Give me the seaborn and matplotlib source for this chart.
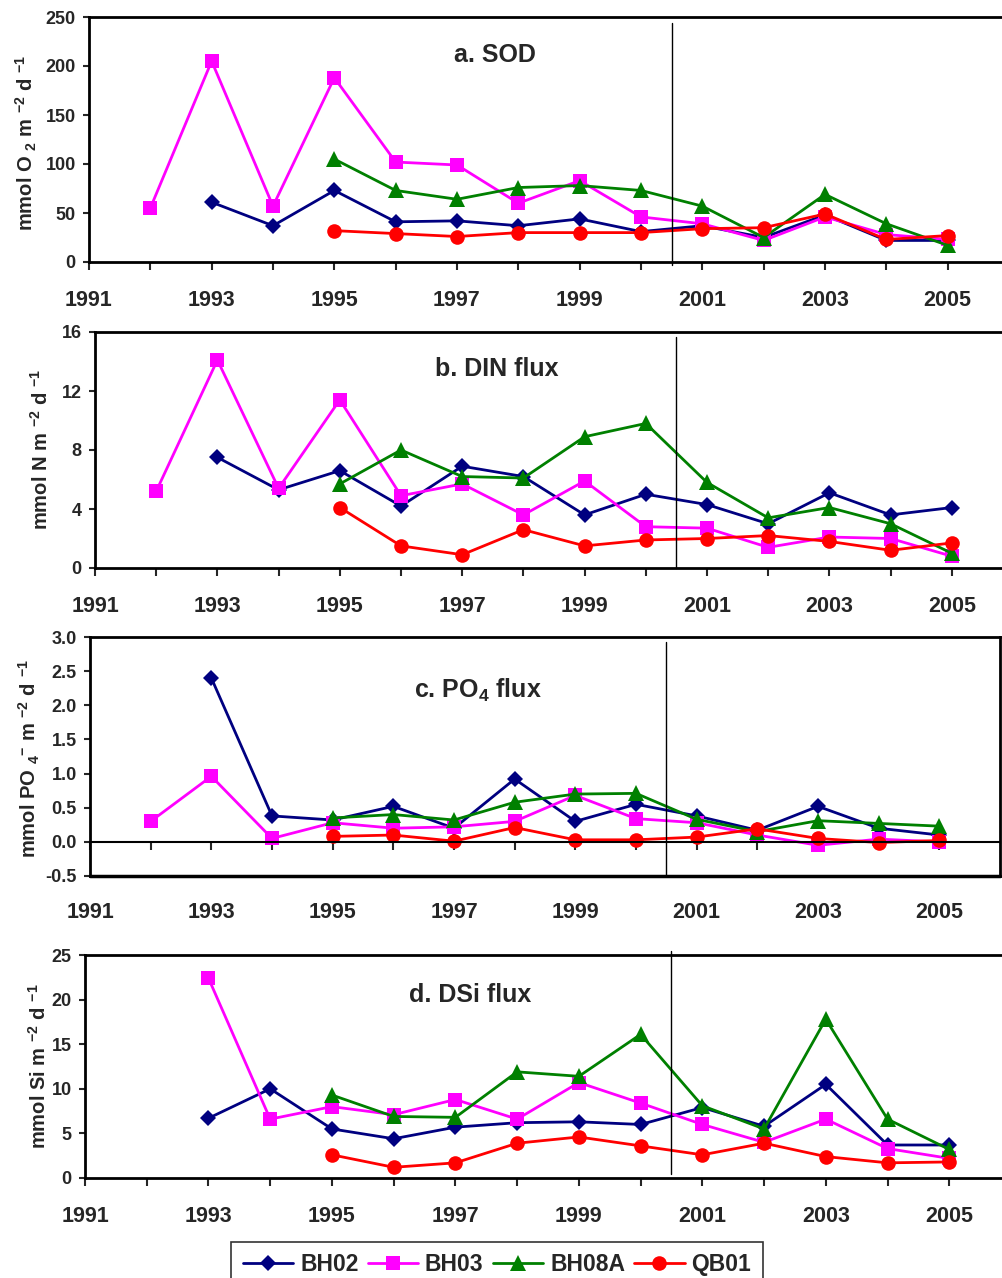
import numpy as np
import matplotlib
matplotlib.use('Agg')
import matplotlib.pyplot as plt
import seaborn as sns

nan = np.nan
years = list(range(1992, 2006))
sites = ['BH02', 'BH03', 'BH08A', 'QB01']

# a. SOD
sod_bh02 = [nan, 61, 37, 73, 41, 42, 37, 44, 31, 37, 25, 48, 22, 22]
sod_bh03 = [55, 205, 57, 188, 102, 99, 60, 83, 46, 39, 22, 46, 28, 23]
sod_bh08a = [nan, nan, nan, 105, 73, 64, 76, 78, 73, 57, 25, 69, 39, 17]
sod_qb01 = [nan, nan, nan, 32, 29, 26, 30, 30, 30, 34, 35, 49, 23, 27]

# b. DIN flux
din_bh02 = [nan, 7.5, 5.3, 6.6, 4.2, 6.9, 6.2, 3.6, 5.0, 4.3, 3.0, 5.1, 3.6, 4.1]
din_bh03 = [5.2, 14.1, 5.4, 11.4, 4.9, 5.7, 3.6, 5.9, 2.8, 2.7, 1.4, 2.1, 2.0, 0.8]
din_bh08a = [nan, nan, nan, 5.7, 8.0, 6.2, 6.1, 8.9, 9.8, 5.8, 3.4, 4.1, 3.0, 1.0]
din_qb01 = [nan, nan, nan, 4.1, 1.5, 0.9, 2.6, 1.5, 1.9, 2.0, 2.2, 1.8, 1.2, 1.7]

# c. PO4 flux
po4_bh02 = [nan, 2.4, 0.38, 0.32, 0.52, 0.2, 0.92, 0.3, 0.55, 0.38, 0.17, 0.52, 0.2, 0.1]
po4_bh03 = [0.3, 0.96, 0.05, 0.28, 0.2, 0.22, 0.3, 0.68, 0.34, 0.28, 0.1, -0.05, 0.04, 0.0]
po4_bh08a = [nan, nan, nan, 0.35, 0.4, 0.32, 0.58, 0.7, 0.71, 0.33, 0.15, 0.31, 0.27, 0.23]
po4_qb01 = [nan, nan, nan, 0.08, 0.1, 0.01, 0.21, 0.03, 0.03, 0.07, 0.19, 0.05, -0.01, 0.02]

# d. DSi flux
dsi_bh02 = [nan, 6.7, 10.0, 5.5, 4.4, 5.7, 6.2, 6.3, 6.0, 7.9, 5.8, 10.5, 3.7, 3.7]
dsi_bh03 = [nan, 22.4, 6.6, 8.0, 7.1, 8.8, 6.6, 10.7, 8.4, 6.0, 4.0, 6.6, 3.3, 2.2]
dsi_bh08a = [nan, nan, nan, 9.3, 6.9, 6.8, 11.9, 11.4, 16.1, 8.1, 5.5, 17.8, 6.6, 3.2]
dsi_qb01 = [nan, nan, nan, 2.6, 1.2, 1.7, 3.9, 4.6, 3.6, 2.6, 3.9, 2.4, 1.7, 1.8]

colors = {'BH02': '#000080', 'BH03': '#FF00FF', 'BH08A': '#008000', 'QB01': '#FF0000'}
markers = {'BH02': 'D', 'BH03': 's', 'BH08A': '^', 'QB01': 'o'}
msizes = {'BH02': 8, 'BH03': 10, 'BH08A': 11, 'QB01': 10.5}

sns.set_style('ticks')
plt.rcParams['font.family'] = ['Liberation Sans', 'DejaVu Sans']
plt.rcParams['font.weight'] = 'bold'
plt.rcParams['mathtext.fontset'] = 'custom'
plt.rcParams['mathtext.rm'] = 'Liberation Sans:bold'
plt.rcParams['mathtext.default'] = 'rm'

W, H = 1002, 1278
fig = plt.figure(figsize=(W / 100, H / 100), dpi=100)


def rect(l, r, t, b):
    return [l / W, 1 - b / H, (r - l) / W, (b - t) / H]


panels = [
    dict(rect=rect(89, 1009, 17, 262), data=[sod_bh02, sod_bh03, sod_bh08a, sod_qb01],
         ylim=(0, 250), yticks=np.arange(0, 251, 50), fmt='%d',
         title='a. SOD', tpos=(0.441, 0.845),
         ylabel='mmol O $_2$ m $^{-2}$ d $^{-1}$', lpos=(-0.054, 0.486),
         vline=(-0.012, 0.976), pad=14),
    dict(rect=rect(95, 1013, 332, 568), data=[din_bh02, din_bh03, din_bh08a, din_qb01],
         ylim=(0, 16), yticks=np.arange(0, 17, 4), fmt='%d',
         title='b. DIN flux', tpos=(0.438, 0.843),
         ylabel='mmol N m $^{-2}$ d $^{-1}$', lpos=(-0.047, 0.504),
         vline=(0.0, 0.98), pad=14),
    dict(rect=rect(90, 1000, 637, 876), data=[po4_bh02, po4_bh03, po4_bh08a, po4_qb01],
         ylim=(-0.5, 3.0), yticks=np.arange(-0.5, 3.01, 0.5), fmt='%.1f',
         title='c. PO$_4$ flux', tpos=(0.426, 0.778),
         ylabel='mmol PO $_4$$^{-}$ m $^{-2}$ d $^{-1}$', lpos=(-0.053, 0.49),
         vline=(0.004, 0.98), pad=37),
    dict(rect=rect(85, 1011, 955, 1178), data=[dsi_bh02, dsi_bh03, dsi_bh08a, dsi_qb01],
         ylim=(0, 25), yticks=np.arange(0, 26, 5), fmt='%d',
         title='d. DSi flux', tpos=(0.416, 0.82),
         ylabel='mmol Si m $^{-2}$ d $^{-1}$', lpos=(-0.038, 0.50),
         vline=(0.02, 1.02), pad=14),
]

axes = []
for p in panels:
    ax = fig.add_axes(p['rect'])
    for site, vals in zip(sites, p['data']):
        sns.lineplot(x=years, y=vals, ax=ax, color=colors[site], marker=markers[site],
                     markersize=msizes[site], markeredgewidth=0, linewidth=2,
                     label=site, legend=False)
    ax.set_xlim(1991, 2006)
    ax.set_ylim(*p['ylim'])
    ax.set_yticks(p['yticks'])
    ax.set_yticklabels([p['fmt'] % v for v in p['yticks']])
    ax.set_xticks(range(1991, 2006))
    ax.set_xticklabels([str(y) if y % 2 == 1 else '' for y in range(1991, 2006)])
    ax.tick_params(axis='x', direction='out', length=6, width=1.5, pad=p['pad'],
                   labelsize=15.5)
    ax.tick_params(axis='y', direction='out', length=4.5, width=1.5, pad=5,
                   labelsize=13)
    for lab in ax.get_xticklabels() + ax.get_yticklabels():
        lab.set_fontweight('bold')
    for s in ['top', 'left', 'bottom', 'right']:
        ax.spines[s].set_linewidth(2)
        ax.spines[s].set_color('black')
    if p['ylim'][0] < 0:
        ax.spines['bottom'].set_position(('data', 0))
        ax.spines['bottom'].set_linewidth(1.5)
        ax.axhline(p['ylim'][0], color='black', lw=2.5, clip_on=False, zorder=5)
    ax.set_xlabel('')
    ax.set_ylabel(p['ylabel'], fontsize=14.5, fontweight='bold')
    ax.yaxis.set_label_coords(*p['lpos'])
    ax.text(p['tpos'][0], p['tpos'][1], p['title'], transform=ax.transAxes,
            ha='center', va='center', fontsize=18, fontweight='bold')
    ax.axvline(2000.5, ymin=p['vline'][0], ymax=p['vline'][1], color='black',
               lw=1, clip_on=False)
    axes.append(ax)

handles, labels = axes[-1].get_legend_handles_labels()
leg = fig.legend(handles, labels, loc='upper center', ncol=4,
                 bbox_to_anchor=(497 / W, 1 - 1242 / H), frameon=True, fancybox=False,
                 edgecolor='black', prop={'size': 16.5, 'weight': 'bold'},
                 handlelength=2.2, handletextpad=0.3, columnspacing=0.4,
                 borderpad=0.5, borderaxespad=0)
leg.get_frame().set_linewidth(1.2)

fig.savefig('out.png', dpi=100)
